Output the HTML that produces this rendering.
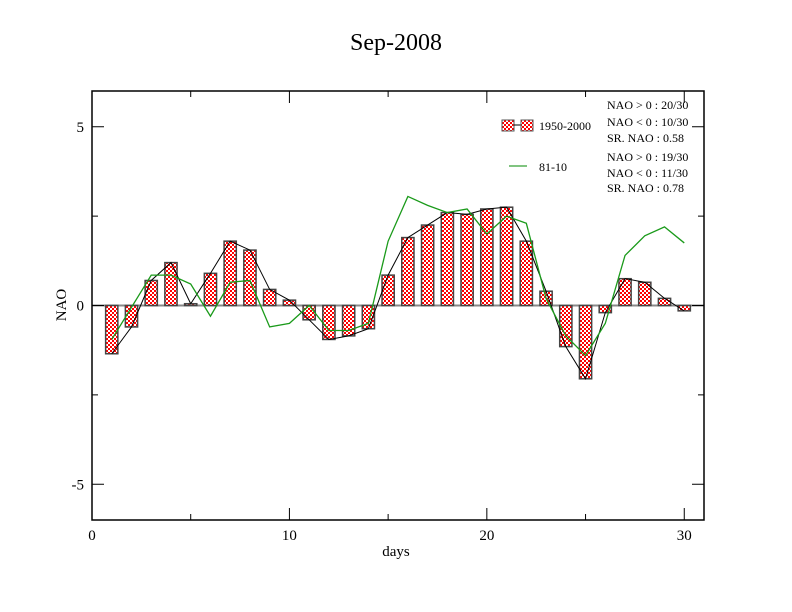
<!DOCTYPE html>
<html><head><meta charset="utf-8"><style>
body{margin:0;background:#fff;}
svg{display:block;font-family:"Liberation Serif",serif;}
</style></head><body>
<svg id="chart" width="792" height="612">
<defs>
<pattern id="chk" width="4" height="4" patternUnits="userSpaceOnUse">
<rect width="4" height="4" fill="#fff"/><rect width="2" height="2" fill="#f00"/><rect x="2" y="2" width="2" height="2" fill="#f00"/>
</pattern>
</defs>
<text x="396" y="50" font-size="24" text-anchor="middle">Sep-2008</text>
<g id="plot"></g>
<text x="396" y="556" font-size="15" text-anchor="middle">days</text>
<text x="66" y="305" font-size="15" text-anchor="middle" transform="rotate(-90 66 305)">NAO</text>
<g font-size="12">
<rect x="502" y="120" width="12" height="11" fill="url(#chk)" stroke="#555"/>
<line x1="514" y1="125" x2="521" y2="125" stroke="#000"/>
<rect x="521" y="120" width="12" height="11" fill="url(#chk)" stroke="#555"/>
<text x="539" y="130">1950-2000</text>
<line x1="509" y1="166" x2="527" y2="166" stroke="#080"/>
<text x="539" y="171">81-10</text>
<text x="607" y="109">NAO &gt; 0 : 20/30</text>
<text x="607" y="126">NAO &lt; 0 : 10/30</text>
<text x="607" y="142">SR. NAO :  0.58</text>
<text x="607" y="161">NAO &gt; 0 : 19/30</text>
<text x="607" y="177">NAO &lt; 0 : 11/30</text>
<text x="607" y="192">SR. NAO :  0.78</text>
</g>
</svg>
<script>
const days=[1,2,3,4,5,6,7,8,9,10,11,12,13,14,15,16,17,18,19,20,21,22,23,24,25,26,27,28,29,30];
const nao1950=[-1.35,-0.6,0.7,1.2,0.05,0.9,1.8,1.55,0.45,0.15,-0.4,-0.95,-0.85,-0.65,0.85,1.9,2.25,2.6,2.55,2.7,2.75,1.8,0.4,-1.15,-2.05,-0.2,0.75,0.65,0.2,-0.15];
const nao8110=[-0.95,-0.05,0.85,0.85,0.6,-0.3,0.65,0.7,-0.6,-0.5,0.0,-0.7,-0.7,-0.5,1.8,3.05,2.8,2.6,2.7,2.0,2.5,2.3,0.2,-0.85,-1.4,-0.5,1.4,1.95,2.2,1.75];
const xTicks=[0,10,20,30];
const yTicks=[-5,0,5];
const X0=92,X1=704,Y0=91,Y1=520;
const xs=d=>X0+(d-0)/(31-0)*(X1-X0);
const ys=v=>Y1-(v+6)/12*(Y1-Y0);
const NS='http://www.w3.org/2000/svg';
const g=document.getElementById('plot');
function mk(t,a){const e=document.createElementNS(NS,t);for(const k in a)e.setAttribute(k,a[k]);g.appendChild(e);return e;}
// zero line
let z=mk('line',{x1:X0,x2:X1,y1:ys(0),y2:ys(0),stroke:'#888','stroke-width':2});


const bw=19.7*0.62;
days.forEach((d,i)=>{const v=nao1950[i];
 const r=mk('rect',{x:xs(d)-bw/2,y:Math.min(ys(v),ys(0)),width:bw,height:Math.max(1.5,Math.abs(ys(v)-ys(0))),fill:'url(#chk)',stroke:'#444','stroke-width':1.5});
 
 
});
let p1=mk('polyline',{points:days.map((d,i)=>xs(d)+','+ys(nao1950[i])).join(' '),fill:'none',stroke:'#000','stroke-width':1});


let p2=mk('polyline',{points:days.map((d,i)=>xs(d)+','+ys(nao8110[i])).join(' '),fill:'none',stroke:'#1a9a1a','stroke-width':1.3});


let fr=mk('rect',{x:X0,y:Y0,width:X1-X0,height:Y1-Y0,fill:'none',stroke:'#000','stroke-width':1.5});


[0,5,10,15,20,25,30].forEach(t=>{const L=t%10===0?12:6;
 mk('line',{x1:xs(t),x2:xs(t),y1:Y1,y2:Y1-L,stroke:'#000'});
 mk('line',{x1:xs(t),x2:xs(t),y1:Y0,y2:Y0+L,stroke:'#000'});});
[-5,-2.5,0,2.5,5].forEach(t=>{const L=t%5===0?12:6;
 mk('line',{x1:X0,x2:X0+L,y1:ys(t),y2:ys(t),stroke:'#000'});
 mk('line',{x1:X1,x2:X1-L,y1:ys(t),y2:ys(t),stroke:'#000'});});
xTicks.forEach(t=>{const e=mk('text',{x:xs(t),y:Y1+20,'font-size':15,'text-anchor':'middle'});e.textContent=t;
 
 });
yTicks.forEach(t=>{const e=mk('text',{x:X0-8,y:ys(t)+5,'font-size':15,'text-anchor':'end'});e.textContent=t;
 
 });
</script>
</body></html>
